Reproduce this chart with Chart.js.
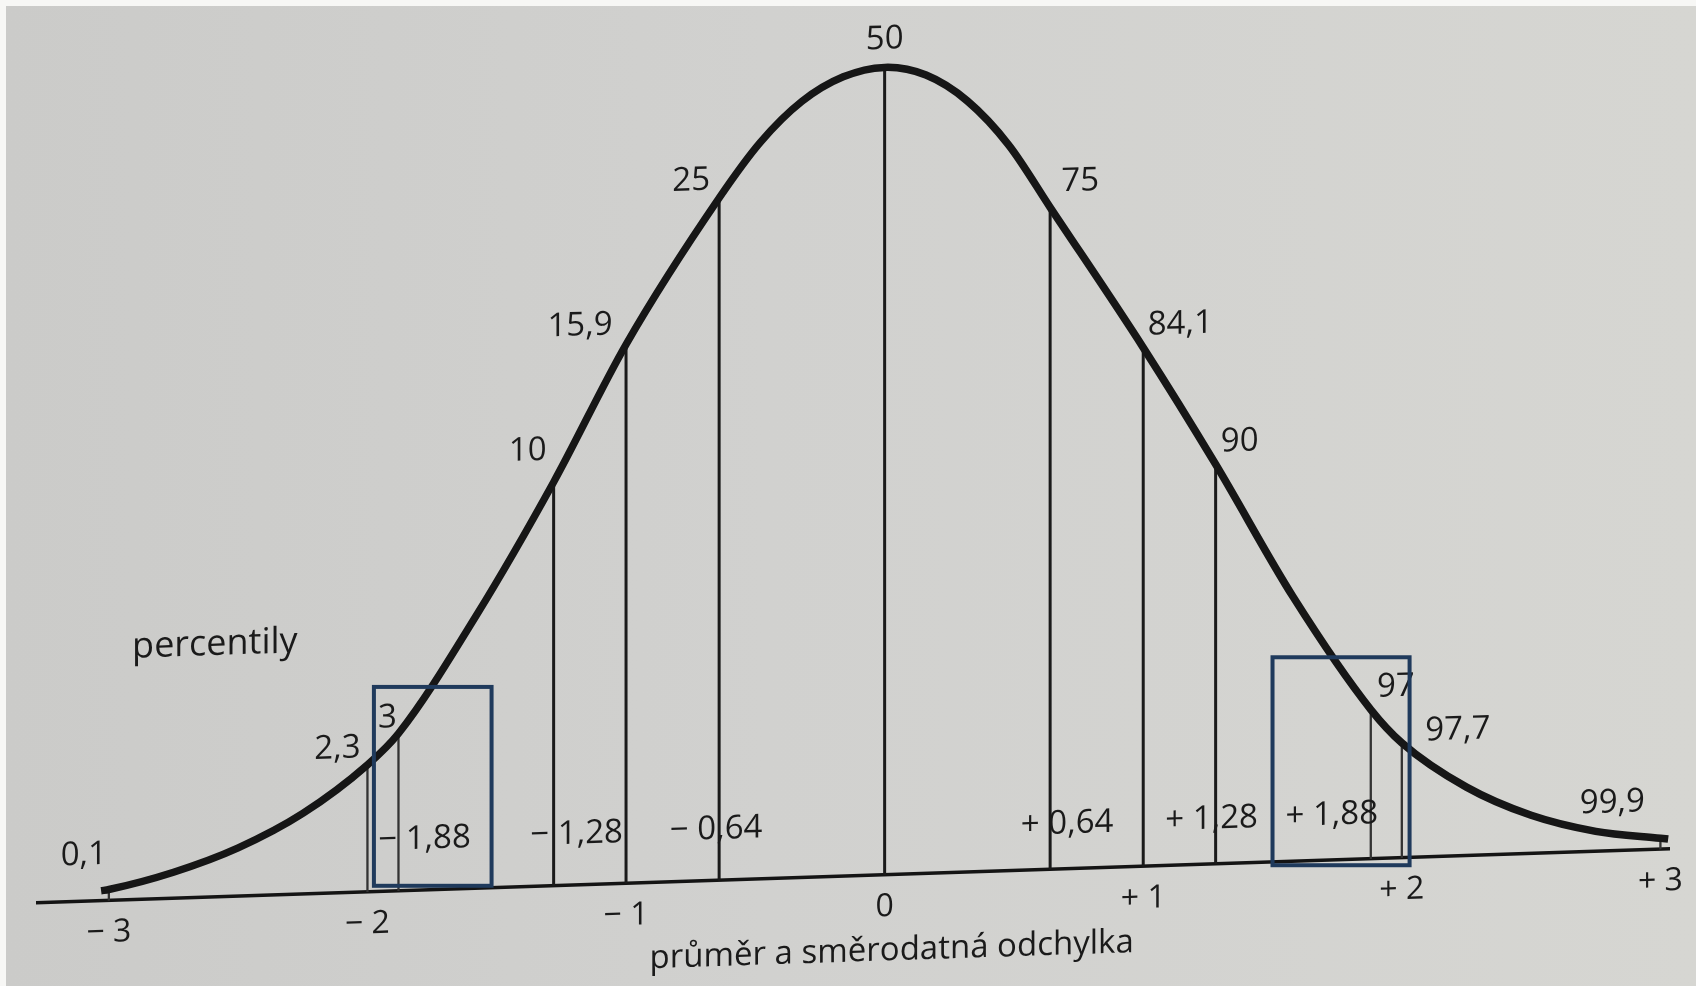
<!DOCTYPE html>
<html lang="cs">
<head>
<meta charset="utf-8">
<title>percentily</title>
<script src="https://cdn.jsdelivr.net/npm/chart.js@4.4.1/dist/chart.umd.min.js"></script>
<style>
    html, body {
        margin: 0;
        padding: 0;
    }
    body {
        width: 1696px;
        height: 986px;
        overflow: hidden;
        background: #f7f7f5;
        position: relative;
    }
    .page {
        position: absolute;
        left: 6px;
        top: 6px;
        right: 0;
        bottom: 0;
        background: linear-gradient(90deg, #cbcbc9 0%, #d1d1cf 45%, #d6d6d2 100%);
    }
    #curve {
        position: absolute;
        left: 0;
        top: 0;
    }
</style>
</head>
<body>
<div class="page"></div>
<canvas id="curve" width="1696" height="986"></canvas>
<script>
// tvar krivky normalniho rozdeleni (z, vyska)
let curveZ = [-3.03, -3, -2.75, -2.5, -2.25, -2, -1.88, -1.58, -1.28, -1, -0.64, -0.48, -0.32, -0.16, 0,
    0.16, 0.32, 0.48, 0.64, 1, 1.28, 1.58, 1.88, 2, 2.25, 2.5, 2.75, 3, 3.03];
let curveY = [0.005, 0.0055, 0.013, 0.024, 0.04, 0.063, 0.078, 0.135, 0.2, 0.267, 0.338, 0.365, 0.3845, 0.396, 0.4,
    0.3955, 0.382, 0.3595, 0.328, 0.257, 0.198, 0.131, 0.074, 0.057, 0.034, 0.019, 0.01, 0.0055, 0.005];

// svislice s percentily
let percentileZ = [-3, -2, -1.88, -1.28, -1, -0.64, 0, 0.64, 1, 1.28, 1.88, 2, 3];
let percentileLabels = ["0,1", "2,3", "3", "10", "15,9", "25", "50", "75", "84,1", "90", "97", "97,7", "99,9"];

// popisky z-hodnot u svislic
let zLabelValues = [-1.88, -1.28, -0.64, 0.64, 1.28, 1.88];
let zLabelTexts = ["\u2212 1,88", "\u2212 1,28", "\u2212 0,64", "+ 0,64", "+ 1,28", "+ 1,88"];

// osa x
let tickValues = [-3, -2, -1, 0, 1, 2, 3];
let tickLabels = ["\u2212 3", "\u2212 2", "\u2212 1", "0", "+ 1", "+ 2", "+ 3"];

// zvyraznene useky (ramecky)
let bands = [
    { from: -1.975, to: -1.52, low: 0.003, high: 0.1015 },
    { from: 1.5, to: 2.03, low: -0.0015, high: 0.1015 },
];

// posuny popisku od vrcholu svislic [dx, dy]
let percentileOffsets = [[-25, -35], [-30, -17], [-11, -16], [-26, -32], [-46, -20], [-28, -18], [0, -28],
    [30, -25], [37, -22], [24, -22], [25, -22], [56, -11], [-48, -37]];
let zLabelDx = [26, 23, -3, 17, -4, -39];

const skew = 0.033;
const ink = "#1a1a1a";
const font = "'Open Sans', 'Noto Sans', sans-serif";

function curveAt(z) {
    return curveY[curveZ.indexOf(z)];
}

let curvePoints = curveZ.map((z, i) => ({ x: z, y: curveY[i] }));
let linePoints = [];
percentileZ.forEach((z) => {
    linePoints.push({ x: z, y: 0 }, { x: z, y: curveAt(z) }, { x: z, y: null });
});

const shear = {
    id: "shear",
    beforeDraw(chart) {
        const ctx = chart.ctx;
        const x0 = chart.scales.x.getPixelForValue(0);
        ctx.save();
        ctx.transform(1, -skew, 0, 1, 0, skew * x0);
    },
    afterDatasetsDraw(chart) {
        const ctx = chart.ctx;
        const xs = chart.scales.x;
        const ys = chart.scales.y;
        const base = ys.getPixelForValue(0);
        ctx.save();
        ctx.fillStyle = ink;
        ctx.textAlign = "center";
        ctx.textBaseline = "middle";
        ctx.font = "33px " + font;
        percentileZ.forEach((z, i) => {
            const [dx, dy] = percentileOffsets[i];
            ctx.fillText(percentileLabels[i], xs.getPixelForValue(z) + dx, ys.getPixelForValue(curveAt(z)) + dy);
        });
        zLabelValues.forEach((z, i) => {
            ctx.fillText(zLabelTexts[i], xs.getPixelForValue(z) + zLabelDx[i], base - (z < 0 ? 51 : 45));
        });
        ctx.fillText("průměr a směrodatná odchylka", xs.getPixelForValue(0) + 7, base + 76);
        ctx.font = "36px " + font;
        ctx.fillText("percentily", xs.getPixelForValue(-2.59), ys.getPixelForValue(0.125));
        ctx.restore();
    },
    afterDraw(chart) {
        const ctx = chart.ctx;
        ctx.restore();
        const xs = chart.scales.x;
        const ys = chart.scales.y;
        const x0 = xs.getPixelForValue(0);
        ctx.save();
        ctx.strokeStyle = "#1f3a5c";
        ctx.lineWidth = 4;
        bands.forEach((b) => {
            const left = xs.getPixelForValue(b.from);
            const right = xs.getPixelForValue(b.to);
            const lift = -skew * (left - x0);
            const top = ys.getPixelForValue(b.high) + lift;
            const bottom = ys.getPixelForValue(b.low) + lift;
            ctx.strokeRect(left, top, right - left, bottom - top);
        });
        ctx.restore();
    },
};

let chart = new Chart("curve", {
    type: "line",
    data: {
        datasets: [
            {
                data: curvePoints,
                borderColor: "#161616",
                borderWidth: 7.5,
                borderCapStyle: "butt",
                pointRadius: 0,
                cubicInterpolationMode: "monotone",
                clip: false,
                order: 0,
            },
            {
                data: linePoints,
                borderColor: ink,
                borderWidth: 3,
                pointRadius: 0,
                tension: 0,
                spanGaps: false,
                clip: false,
                order: 1,
                segment: {
                    borderWidth: (c) => (Math.abs(c.p0.parsed.x) > 1.7 ? 2.3 : 3),
                    borderColor: (c) => (Math.abs(c.p0.parsed.x) > 1.7 ? "#333333" : ink),
                },
            },
        ],
    },
    options: {
        responsive: false,
        animation: false,
        events: [],
        layout: {
            padding: { left: 38, right: 24, top: 27, bottom: 0 },
        },
        plugins: {
            legend: { display: false },
            tooltip: { enabled: false },
        },
        scales: {
            x: {
                type: "linear",
                min: -3.274,
                max: 3.035,
                afterBuildTicks: (scale) => {
                    scale.ticks = tickValues.map((v) => ({ value: v }));
                },
                afterFit: (scale) => {
                    scale.height = 111;
                },
                grid: { display: false, drawTicks: false },
                border: { display: true, color: "#141414", width: 3.5 },
                ticks: {
                    autoSkip: false,
                    maxRotation: 0,
                    padding: 13,
                    color: ink,
                    font: { family: font, size: 32 },
                    callback: (v, i) => tickLabels[i],
                },
            },
            y: {
                display: false,
                min: 0,
                max: 0.42,
            },
        },
    },
    plugins: [shear],
});
</script>
</body>
</html>
